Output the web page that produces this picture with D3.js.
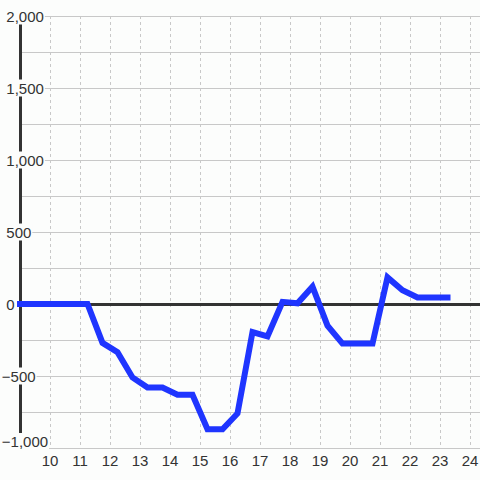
<!DOCTYPE html>
<html>
<head>
<meta charset="utf-8">
<script src="https://cdn.jsdelivr.net/npm/d3@7"></script>
<style>
  html, body { margin: 0; padding: 0; background: #fcfdfc; }
  svg { display: block; }
  text { font-family: "Liberation Sans", Arial, sans-serif; font-size: 15px; fill: #333; }
</style>
</head>
<body>
<svg id="chart" width="480" height="480"></svg>
<script>
// Data
const hours = [9, 9.25, 9.75, 10.25, 10.75, 11.25, 11.75, 12.25, 12.75, 13.25, 13.75, 14.25, 14.75,
  15.25, 15.75, 16.25, 16.75, 17.25, 17.75, 18.25, 18.75, 19.25, 19.75, 20.25, 20.75,
  21.25, 21.75, 22.25, 22.75, 23.25];
const values = [0, 0, 0, 0, 0, 0, -270, -335, -510, -580, -580, -630, -630,
  -870, -870, -760, -195, -225, 15, 5, 120, -150, -275, -275, -275,
  185, 95, 45, 45, 45];
const xTicks = [10, 11, 12, 13, 14, 15, 16, 17, 18, 19, 20, 21, 22, 23, 24];
const yGrid = [-1000, -750, -500, -250, 0, 250, 500, 750, 1000, 1250, 1500, 1750, 2000];
const yLabels = [-1000, -500, 0, 500, 1000, 1500, 2000];

const svg = d3.select("#chart");
const x = d3.scaleLinear().domain([9, 24]).range([20, 470]);
const y = d3.scaleLinear().domain([-1000, 2000]).range([448, 16]);
const fmt = d3.format(",");

// horizontal grid
svg.append("g").selectAll("line").data(yGrid.filter(d => d !== 0)).join("line")
  .attr("x1", x(9)).attr("x2", 480)
  .attr("y1", d => y(d) + 0.5).attr("y2", d => y(d) + 0.5)
  .attr("stroke", "#c8c8c8").attr("stroke-width", 1);

// vertical dotted grid
svg.append("g").selectAll("line").data(xTicks).join("line")
  .attr("x1", d => x(d) + 0.5).attr("x2", d => x(d) + 0.5)
  .attr("y1", y(2000)).attr("y2", y(-1000))
  .attr("stroke", "#c8c8c8").attr("stroke-width", 1)
  .attr("stroke-dasharray", "3,3");

// zero line
svg.append("line")
  .attr("x1", x(9)).attr("x2", 480)
  .attr("y1", y(0) + 0.5).attr("y2", y(0) + 0.5)
  .attr("stroke", "#333").attr("stroke-width", 3);

// y axis line
svg.append("line")
  .attr("x1", x(9) + 0.5).attr("x2", x(9) + 0.5)
  .attr("y1", y(2000)).attr("y2", y(-1000))
  .attr("stroke", "#333").attr("stroke-width", 3);

// data line
const line = d3.line().x((d, i) => x(hours[i])).y(d => y(d));
svg.append("path")
  .datum(values)
  .attr("d", line)
  .attr("fill", "none")
  .attr("stroke", "#1f35ff")
  .attr("stroke-width", 6)
  .attr("stroke-linecap", "square")
  .attr("stroke-linejoin", "miter");

// y labels with background
const yl = svg.append("g");
yLabels.forEach(v => {
  const g = yl.append("g");
  const t = g.append("text")
    .attr("x", v < 0 ? 1.8 : 6.3)
    .attr("y", Math.min(y(v) + 5.5, 447))
    .text(fmt(v));
  const bb = t.node().getBBox();
  g.insert("rect", "text")
    .attr("x", bb.x - 0.5).attr("y", bb.y)
    .attr("width", bb.width + 1.5).attr("height", bb.height)
    .attr("fill", "#fcfdfc");
});

// x labels
svg.append("g").selectAll("text").data(xTicks).join("text")
  .attr("x", d => x(d))
  .attr("y", 466)
  .attr("text-anchor", "middle")
  .text(d => d);
</script>
</body>
</html>
